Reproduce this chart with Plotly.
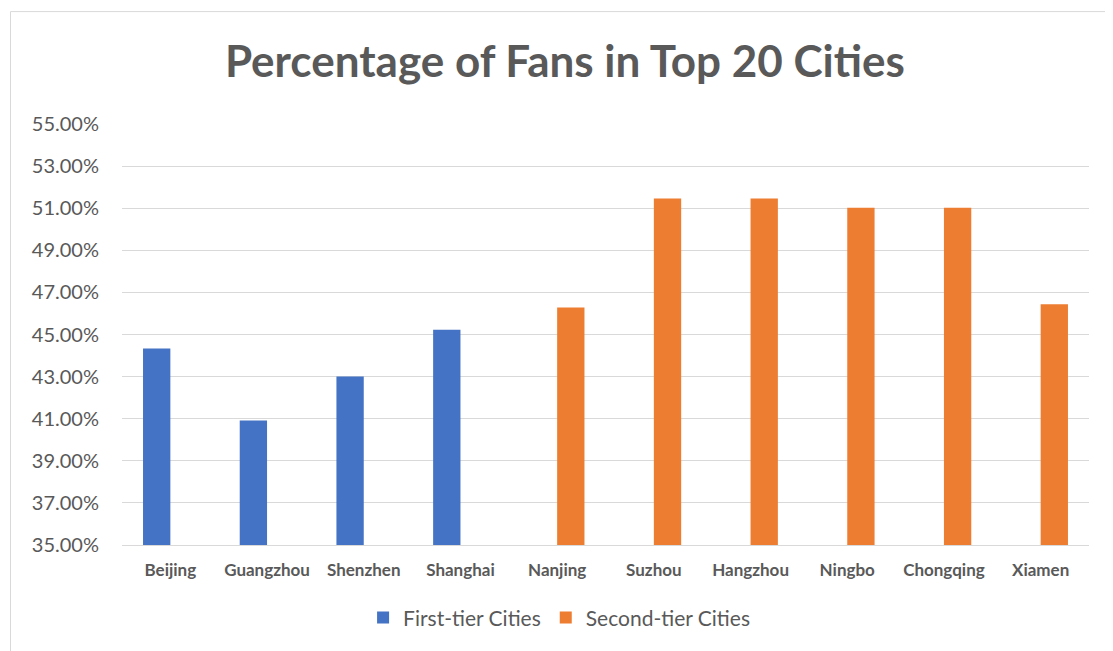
import plotly.graph_objects as go

cities = ["Beijing", "Guangzhou", "Shenzhen", "Shanghai", "Nanjing",
          "Suzhou", "Hangzhou", "Ningbo", "Chongqing", "Xiamen"]
first_tier = [0.4433, 0.4091, 0.4300, 0.4522, None, None, None, None, None, None]
second_tier = [None, None, None, None, 0.4628, 0.5146, 0.5146, 0.5102, 0.5102, 0.4644]
y_ticks = [0.35, 0.37, 0.39, 0.41, 0.43, 0.45, 0.47, 0.49, 0.51, 0.53, 0.55]

TXT = "#595959"
GRID = "#D9D9D9"

fig = go.Figure()
fig.add_trace(go.Bar(x=cities, y=first_tier, name="First-tier Cities",
                     marker=dict(color="#4472C4", line=dict(width=0))))
fig.add_trace(go.Bar(x=cities, y=second_tier, name="Second-tier Cities",
                     marker=dict(color="#ED7D31", line=dict(width=0))))

fig.update_layout(
    width=1105, height=643,
    margin=dict(l=114, r=24, t=116, b=106),
    paper_bgcolor="white", plot_bgcolor="white",
    barmode="group", bargap=0.435, bargroupgap=0,
    font=dict(family="Lato", color=TXT),
    title=dict(text="<b>Percentage of Fans in Top 20 Cities</b>",
               font=dict(family="Lato", size=44, color=TXT),
               x=0.504, xanchor="center", xref="container",
               y=0.916, yanchor="middle", yref="container"),
    legend=dict(orientation="h", x=0.452, xanchor="center",
                y=-0.173, yanchor="middle",
                font=dict(family="Lato", size=21, color=TXT),
                itemwidth=30, traceorder="normal"),
    showlegend=True,
)
fig.update_yaxes(range=[0.35, 0.55], tickvals=y_ticks, tickformat=".2%",
                 showgrid=True, gridcolor=GRID, gridwidth=1,
                 zeroline=False, showline=False, ticks="",
                 ticklabelstandoff=22,
                 tickfont=dict(family="Lato", size=20, color=TXT))
fig.update_xaxes(showline=True, linecolor=GRID, linewidth=1,
                 showgrid=False, ticks="", ticklabelstandoff=10,
                 tickfont=dict(family="Lato", size=17, color=TXT, weight="bold"))

fig.add_shape(type="rect", xref="paper", yref="paper",
              x0=-0.1153, x1=1.2, y0=-0.4, y1=1.267,
              line=dict(color=GRID, width=1), fillcolor="rgba(0,0,0,0)",
              layer="below")

fig.write_html("out.html")
